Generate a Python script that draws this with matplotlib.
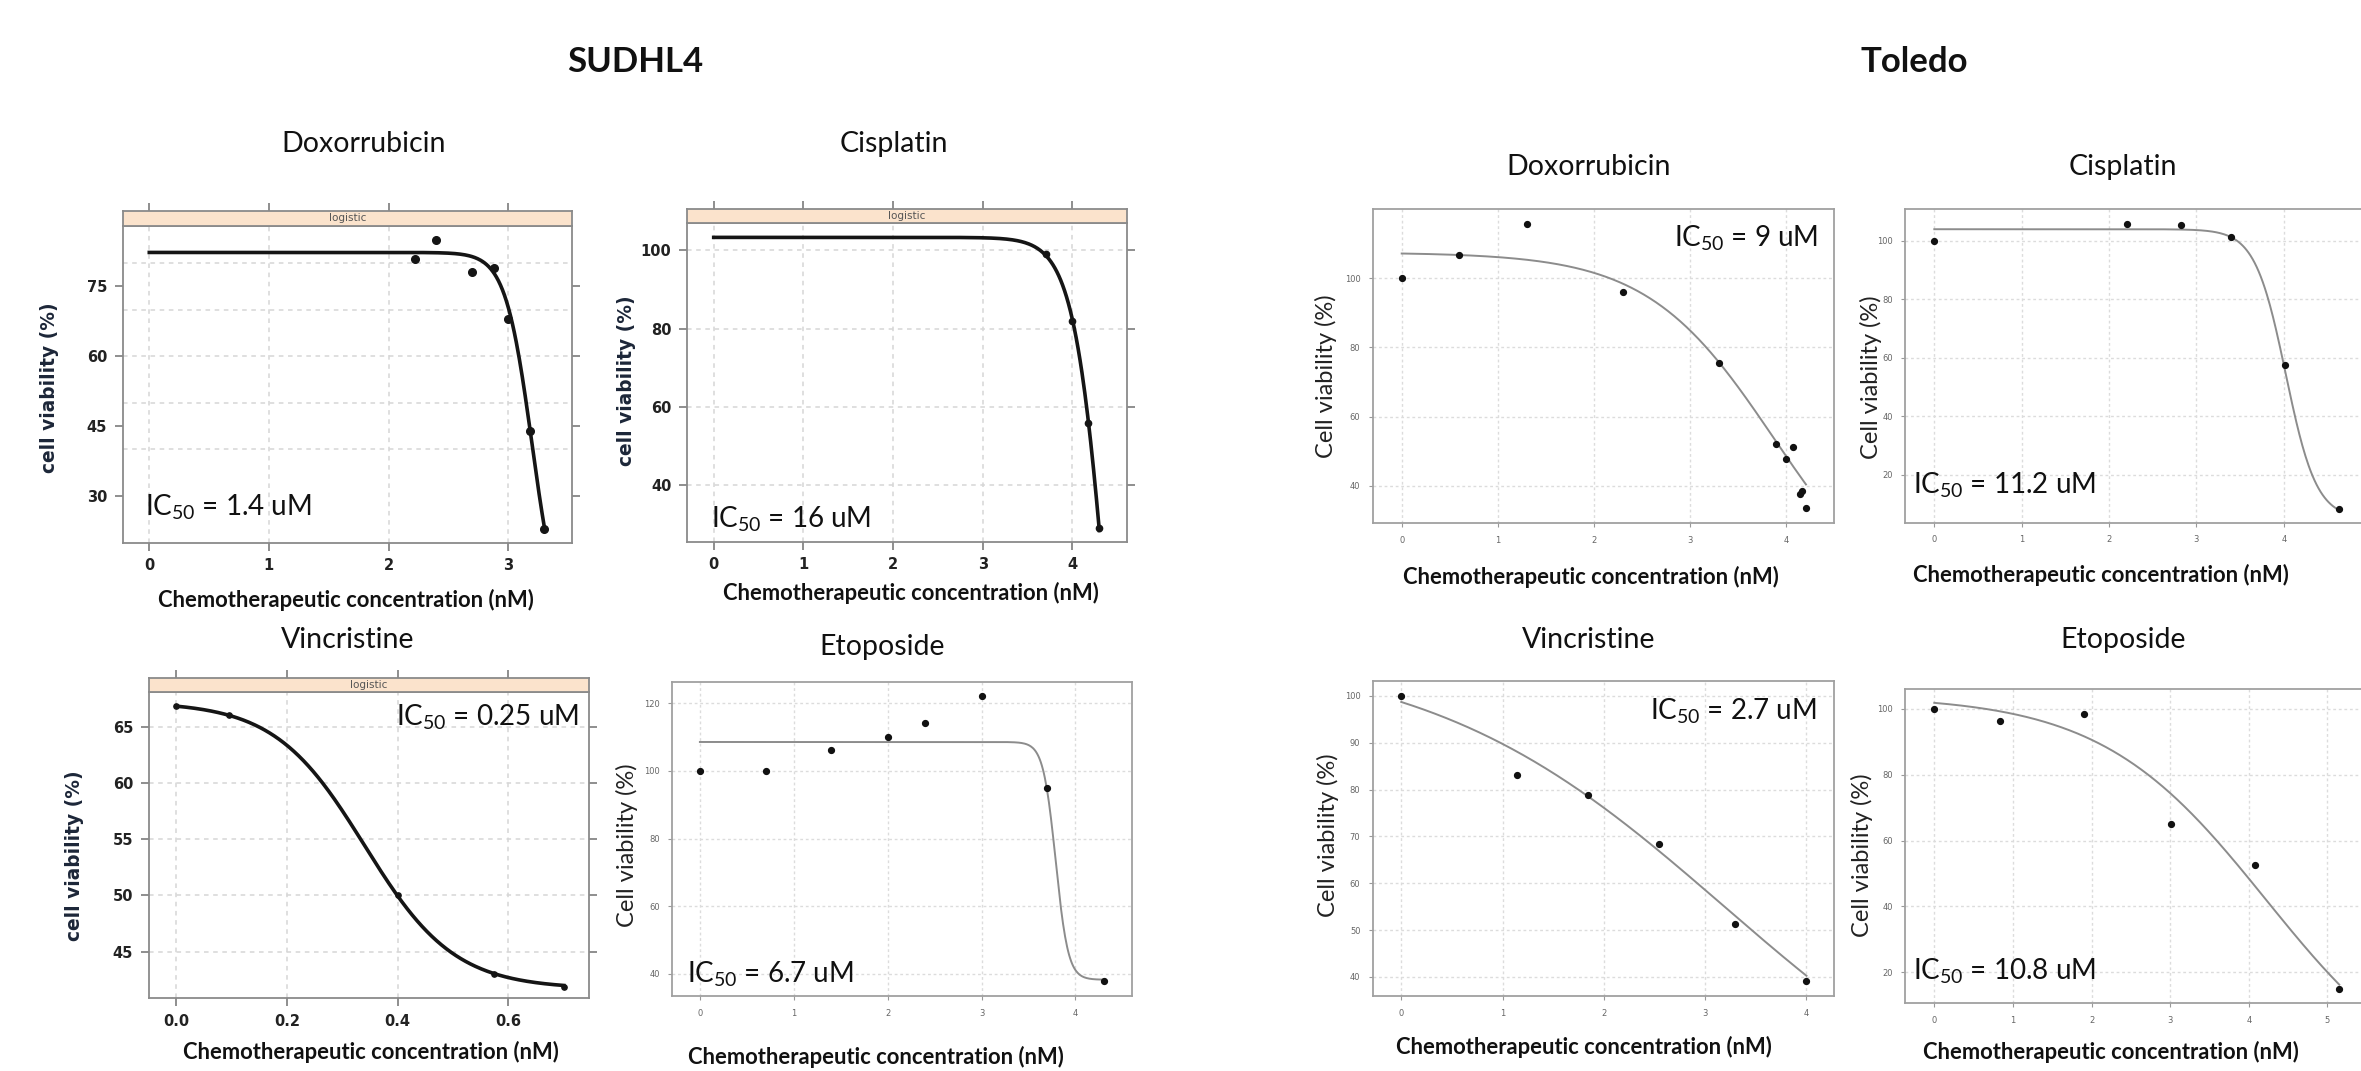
import numpy as np
import matplotlib
matplotlib.use("Agg")
import matplotlib.pyplot as plt

plt.rcParams['mathtext.fontset'] = 'custom'
plt.rcParams['mathtext.rm'] = 'Lato'
plt.rcParams['mathtext.it'] = 'Lato:italic'
plt.rcParams['mathtext.bf'] = 'Lato:bold'

# ---------------- data ----------------
cell_lines = ["SUDHL4", "Toledo"]
drugs = ["Doxorrubicin", "Cisplatin", "Vincristine", "Etoposide"]

# SUDHL4
sudhl4_dox_conc = [2.22, 2.40, 2.70, 2.88, 3.00, 3.18, 3.30]
sudhl4_dox_viab = [81, 85, 78, 79, 68, 44, 23]
sudhl4_cis_conc = [3.71, 4.00, 4.17, 4.30]
sudhl4_cis_viab = [99, 82, 56, 29]
sudhl4_vin_conc = [0.0, 0.095, 0.40, 0.574, 0.70]
sudhl4_vin_viab = [66.8, 66.0, 50.0, 43.0, 41.9]
sudhl4_eto_conc = [0.0, 0.70, 1.40, 2.00, 2.40, 3.00, 3.70, 4.30]
sudhl4_eto_viab = [100, 100, 106, 110, 114, 122, 95, 38]

# Toledo
toledo_dox_conc = [0.0, 0.60, 1.30, 2.30, 3.30, 3.90, 4.00, 4.08, 4.15, 4.17, 4.21]
toledo_dox_viab = [100, 106.8, 115.8, 96.2, 75.6, 52.1, 47.8, 51.3, 37.6, 38.5, 33.4]
toledo_cis_conc = [0.0, 2.21, 2.82, 3.40, 4.01, 4.63]
toledo_cis_viab = [100, 105.8, 105.5, 101.4, 57.6, 8.5]
toledo_vin_conc = [0.0, 1.145, 1.844, 2.543, 3.297, 4.00]
toledo_vin_viab = [100, 83.2, 78.8, 68.4, 51.3, 39.0]
toledo_eto_conc = [0.0, 0.84, 1.905, 3.004, 4.08, 5.15]
toledo_eto_viab = [100, 96.4, 98.5, 65.1, 52.7, 15.0]

# fitted logistic curves: [top, bottom, midpoint, slope]
sudhl4_dox_fit = [82.3, 0.0, 3.20, 9.0]
sudhl4_cis_fit = [103.3, -100.0, 4.40, 5.4]
sudhl4_vin_fit = [67.2, 41.7, 0.34, 12.3]
sudhl4_eto_fit = [108.5, 38.3, 3.79, 15.0]
toledo_dox_fit = [107.5, 0.0, 3.875, 1.52]
toledo_cis_fit = [103.9, 5.0, 4.022, 5.7]
toledo_vin_fit = [110.0, 0.0, 3.19, 0.68]
toledo_eto_fit = [104.0, -20.0, 4.22, 0.95]

ic50_labels = ["1.4 uM", "16 uM", "0.25 uM", "6.7 uM",
               "9 uM", "11.2 uM", "2.7 uM", "10.8 uM"]

# tick values
sudhl4_dox_xticks = [0, 1, 2, 3]
sudhl4_dox_yticks = [30, 45, 60, 75]
sudhl4_dox_ygrid = [40, 50, 60, 70, 80]
sudhl4_cis_xticks = [0, 1, 2, 3, 4]
sudhl4_cis_yticks = [40, 60, 80, 100]
sudhl4_vin_xticks = [0.0, 0.2, 0.4, 0.6]
sudhl4_vin_xlabels = ["0.0", "0.2", "0.4", "0.6"]
sudhl4_vin_yticks = [45, 50, 55, 60, 65]
sudhl4_eto_xticks = [0, 1, 2, 3, 4]
sudhl4_eto_yticks = [40, 60, 80, 100, 120]
toledo_dox_xticks = [0, 1, 2, 3, 4]
toledo_dox_yticks = [40, 60, 80, 100]
toledo_cis_xticks = [0, 1, 2, 3, 4]
toledo_cis_yticks = [20, 40, 60, 80, 100]
toledo_vin_xticks = [0, 1, 2, 3, 4]
toledo_vin_yticks = [40, 50, 60, 70, 80, 90, 100]
toledo_eto_xticks = [0, 1, 2, 3, 4, 5]
toledo_eto_yticks = [20, 40, 60, 80, 100]

XLAB = "Chemotherapeutic concentration (nM)"

# ---------------- figure ----------------
W, H = 2361, 1071
fig = plt.figure(figsize=(W / 100, H / 100), dpi=100)
fig.patch.set_facecolor("white")


def box(l, t, r, b):
    return [l / W, 1 - b / H, (r - l) / W, (b - t) / H]


def ftext(x, y, s, **kw):
    fig.text(x / W, 1 - y / H, s, **kw)


def logistic(x, p):
    top, bot, mid, slope = p
    return bot + (top - bot) / (1 + np.exp(slope * (x - mid)))


def lattice_panel(rect, strip_top, xlim, ylim, xticks, xlabels, yticks, ygrid,
                  conc, viab, fit, ms):
    l, t, r, b = rect
    ax = fig.add_axes(box(l, t, r, b))
    ax.set_xlim(xlim)
    ax.set_ylim(ylim)
    for g in ygrid:
        ax.axhline(g, color="#d6d6d6", lw=1.1, ls=(0, (3, 3)), zorder=0)
    for g in xticks:
        ax.axvline(g, color="#d6d6d6", lw=1.1, ls=(0, (3, 3)), zorder=0)
    xs = np.linspace(0, max(conc), 400)
    ax.plot(xs, logistic(xs, fit), color="#151515", lw=2.6, zorder=3)
    ax.plot(conc, viab, "o", color="#151515", ms=ms, zorder=4)
    ax.set_xticks(xticks)
    ax.set_xticklabels(xlabels if xlabels else [str(v) for v in xticks])
    ax.set_yticks(yticks)
    ax.set_yticklabels([str(v) for v in yticks])
    for lab in ax.get_xticklabels() + ax.get_yticklabels():
        lab.set_fontfamily("DejaVu Sans")
        lab.set_fontweight("bold")
        lab.set_fontsize(10.5)
        lab.set_color("#222222")
    ax.tick_params(direction="out", length=6, width=1.1, color="#707070",
                   right=True, top=False, labelright=False, pad=5)
    for s in ax.spines.values():
        s.set_color("#8a8a8a")
        s.set_linewidth(1.3)
    sax = fig.add_axes(box(l, strip_top, r, t))
    sax.set_facecolor("#fbe3cc")
    sax.set_xlim(xlim)
    sax.set_xticks(xticks)
    sax.set_yticks([])
    sax.tick_params(top=True, bottom=False, labeltop=False, labelbottom=False,
                    direction="out", length=6, width=1.1, color="#707070")
    for s in sax.spines.values():
        s.set_color("#8a8a8a")
        s.set_linewidth(1.3)
    sax.text(0.5, 0.5, "logistic", transform=sax.transAxes, ha="center",
             va="center", fontsize=7.5, color="#555555", family="DejaVu Sans")
    return ax


def gg_panel(rect, xlim, ylim, xticks, yticks, conc, viab, fit):
    l, t, r, b = rect
    ax = fig.add_axes(box(l, t, r, b))
    ax.set_xlim(xlim)
    ax.set_ylim(ylim)
    for g in yticks:
        ax.axhline(g, color="#dcdcdc", lw=1.0, ls=(0, (2, 2)), zorder=0)
    for g in xticks:
        ax.axvline(g, color="#dcdcdc", lw=1.0, ls=(0, (2, 2)), zorder=0)
    xs = np.linspace(0, max(conc), 400)
    ax.plot(xs, logistic(xs, fit), color="#8c8c8c", lw=1.4, zorder=3)
    ax.plot(conc, viab, "o", color="#111111", ms=4.2, zorder=4)
    ax.set_xticks(xticks)
    ax.set_xticklabels([str(v) for v in xticks])
    ax.set_yticks(yticks)
    ax.set_yticklabels([str(v) for v in yticks])
    ax.tick_params(direction="out", length=3, width=0.8, color="#999999",
                   labelsize=6, labelcolor="#666666", pad=6)
    for s in ax.spines.values():
        s.set_color("#a0a0a0")
        s.set_linewidth(1.3)
    return ax


# ---- SUDHL4 (lattice-style) ----
lattice_panel((122.5, 225.9, 572.1, 542.6), 210.7, (-0.224, 3.535), (20.0, 88.0),
              sudhl4_dox_xticks, None, sudhl4_dox_yticks, sudhl4_dox_ygrid,
              sudhl4_dox_conc, sudhl4_dox_viab, sudhl4_dox_fit, 5.5)
lattice_panel((686.8, 222.7, 1126.7, 542.0), 208.5, (-0.30, 4.605), (25.5, 107.05),
              sudhl4_cis_xticks, None, sudhl4_cis_yticks, sudhl4_cis_yticks,
              sudhl4_cis_conc, sudhl4_cis_viab, sudhl4_cis_fit, 4.5)
lattice_panel((148.5, 691.7, 589.3, 998.3), 678.3, (-0.05, 0.746), (40.86, 68.1),
              sudhl4_vin_xticks, sudhl4_vin_xlabels, sudhl4_vin_yticks, sudhl4_vin_yticks,
              sudhl4_vin_conc, sudhl4_vin_viab, sudhl4_vin_fit, 3.8)
gg_panel((672.3, 681.7, 1131.7, 996.0), (-0.294, 4.60), (33.5, 126.3),
         sudhl4_eto_xticks, sudhl4_eto_yticks,
         sudhl4_eto_conc, sudhl4_eto_viab, sudhl4_eto_fit)

# ---- Toledo (ggplot-style) ----
gg_panel((1372.9, 209.3, 1833.8, 523.3), (-0.30, 4.50), (29.1, 120.0),
         toledo_dox_xticks, toledo_dox_yticks,
         toledo_dox_conc, toledo_dox_viab, toledo_dox_fit)
gg_panel((1905.2, 209.3, 2366.0, 522.7), (-0.333, 4.94), (3.7, 110.7),
         toledo_cis_xticks, toledo_cis_yticks,
         toledo_cis_conc, toledo_cis_viab, toledo_cis_fit)
gg_panel((1372.9, 681.0, 1833.8, 996.0), (-0.28, 4.27), (35.9, 103.2),
         toledo_vin_xticks, toledo_vin_yticks,
         toledo_vin_conc, toledo_vin_viab, toledo_vin_fit)
gg_panel((1905.2, 689.3, 2366.0, 1003.3), (-0.37, 5.49), (10.6, 105.9),
         toledo_eto_xticks, toledo_eto_yticks,
         toledo_eto_conc, toledo_eto_viab, toledo_eto_fit)

# ---- headers ----
ftext(635, 62, cell_lines[0], ha="center", va="center", family="Lato",
      fontweight="bold", fontsize=25, color="#111111")
ftext(1914, 62, cell_lines[1], ha="center", va="center", family="Lato",
      fontweight="bold", fontsize=25, color="#111111")

# ---- panel titles ----
title_pos = [(363.6, 143.8), (894, 143.8), (348, 640), (882.4, 646.7),
             (1589, 166.7), (2122.9, 166.7), (1589, 640), (2122.9, 640)]
for i, (x, y) in enumerate(title_pos):
    ftext(x, y, drugs[i % 4], ha="center", va="center", family="Lato",
          fontsize=20.5, color="#111111")

# ---- x labels ----
xlab_pos = [(346, 600), (910.6, 593), (371, 1051.7), (876, 1057),
            (1591, 576.7), (2100.9, 575), (1583.6, 1046.7), (2111, 1051.7)]
for x, y in xlab_pos:
    ftext(x, y, XLAB, ha="center", va="center", family="Lato",
          fontweight="bold", fontsize=15.8, color="#111111")

# ---- y labels ----
lattice_ylab = [(49.7, 388), (626.5, 381), (74.6, 855.8)]
for x, y in lattice_ylab:
    ftext(x, y, "cell viability (%)", ha="center", va="center", rotation=90,
          family="DejaVu Sans", fontweight="bold", fontsize=13.4, color="#1c2638")
gg_ylab = [(626.5, 845), (1325.9, 375.8), (1870.6, 376.7), (1327.7, 835), (1862, 855)]
for x, y in gg_ylab:
    ftext(x, y, "Cell viability (%)", ha="center", va="center", rotation=90,
          family="Lato", fontsize=17, color="#222222")

# ---- IC50 annotations ----
ic_pos = [(145.4, 515), (710.9, 527.4), (396, 725), (686.8, 982.7),
          (1674, 246.7), (1913, 493.3), (1649.5, 720), (1913, 980)]
for (x, y), lab in zip(ic_pos, ic50_labels):
    ftext(x, y, r"IC$_{50}$ = " + lab, ha="left", va="baseline", family="Lato",
          fontsize=20, color="#111111")

fig.savefig("out.png", dpi=100, facecolor="white")
